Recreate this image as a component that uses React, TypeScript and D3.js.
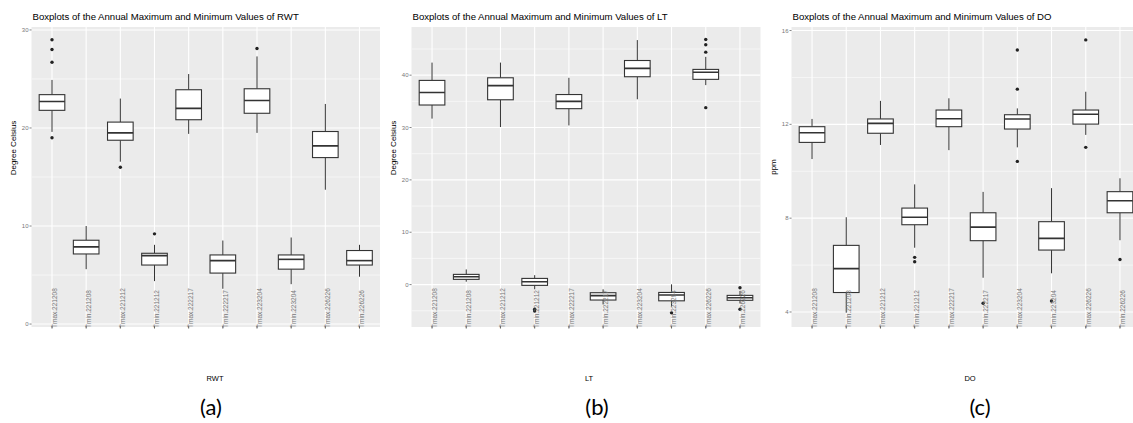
import React from 'react';
import * as d3 from 'd3';

const width = 1133;
const height = 423;
const panelBg = '#ebebeb';
const boxStroke = '#333333';

const categories = [
  'T\u0304max.221208', 'T\u0304min.221208', 'T\u0304max.221212', 'T\u0304min.221212',
  'T\u0304max.222217', 'T\u0304min.222217', 'T\u0304max.223204', 'T\u0304min.223204',
  'T\u0304max.226226', 'T\u0304min.226226',
];

// [lower whisker, Q1, median, Q3, upper whisker]
const rwtBoxes = [
  [19.6, 21.8, 22.7, 23.4, 24.9],
  [5.6, 7.15, 7.87, 8.55, 10.0],
  [16.56, 18.75, 19.5, 20.6, 23.0],
  [4.38, 6.02, 6.98, 7.22, 8.08],
  [19.4, 20.84, 22.0, 23.9, 25.5],
  [3.6, 5.2, 6.47, 7.05, 8.52],
  [19.5, 21.5, 22.8, 24.0, 27.3],
  [4.07, 5.6, 6.6, 7.05, 8.83],
  [13.7, 16.98, 18.17, 19.64, 22.45],
  [4.83, 6.02, 6.47, 7.5, 8.08],
];
const rwtOutliers = [[29.0, 28.0, 26.7, 19.0], [], [16.0], [9.2], [], [], [28.1], [], [], []];

const ltBoxes = [
  [31.7, 34.3, 36.7, 39.0, 42.4],
  [0.55, 1.0, 1.5, 1.95, 2.9],
  [30.1, 35.3, 38.0, 39.5, 42.4],
  [-0.9, -0.15, 0.55, 1.18, 1.8],
  [30.4, 33.6, 35.0, 36.3, 39.5],
  [-3.8, -2.95, -2.1, -1.55, -0.9],
  [35.4, 39.7, 41.3, 42.8, 46.7],
  [-4.2, -3.1, -2.0, -1.5, 0.05],
  [38.1, 39.2, 40.55, 41.1, 43.5],
  [-3.6, -3.0, -2.5, -2.06, -1.2],
];
const ltOutliers = [[], [], [], [-4.7, -5.05], [], [], [], [-5.4], [46.8, 45.8, 44.4, 33.8], [-0.6, -4.7]];

const doBoxes = [
  [10.52, 11.23, 11.64, 11.9, 12.23],
  [3.97, 4.83, 5.85, 6.84, 8.04],
  [11.12, 11.62, 12.04, 12.23, 13.0],
  [6.74, 7.72, 8.04, 8.43, 9.44],
  [10.9, 11.9, 12.24, 12.61, 13.11],
  [5.46, 7.04, 7.62, 8.23, 9.12],
  [11.02, 11.8, 12.23, 12.41, 12.68],
  [5.65, 6.64, 7.14, 7.85, 9.28],
  [11.55, 12.01, 12.43, 12.61, 13.39],
  [7.06, 8.23, 8.74, 9.13, 9.7],
];
const doOutliers = [[], [], [], [6.33, 6.14], [], [4.37], [15.17, 13.5, 10.42], [4.47], [15.6, 11.02], [6.24]];

const rwtTicks = [0, 10, 20, 30];
const rwtMinor = [5, 15, 25];
const ltTicks = [0, 10, 20, 30, 40];
const ltMinor = [-5, 5, 15, 25, 35, 45];
const doTicks = [4, 8, 12, 16];
const doMinor = [6, 10, 14];

const panels = [
  {
    key: 'rwt', title: 'Boxplots of the Annual Maximum and Minimum Values of RWT',
    yTitle: 'Degree Celsius', xTitle: 'RWT', caption: '(a)',
    boxes: rwtBoxes, outliers: rwtOutliers, ticks: rwtTicks, minor: rwtMinor,
    domain: [-0.3, 30.3], left: 31.5, right: 380, yTitleX: 13, yTitleY: 148,
    xTitleX: 215, captionX: 211,
  },
  {
    key: 'lt', title: 'Boxplots of the Annual Maximum and Minimum Values of LT',
    yTitle: 'Degree Celsius', xTitle: 'LT', caption: '(b)',
    boxes: ltBoxes, outliers: ltOutliers, ticks: ltTicks, minor: ltMinor,
    domain: [-8.1, 49.2], left: 411.5, right: 760.5, yTitleX: 393, yTitleY: 148,
    xTitleX: 589, captionX: 597,
  },
  {
    key: 'do', title: 'Boxplots of the Annual Maximum and Minimum Values of DO',
    yTitle: 'ppm', xTitle: 'DO', caption: '(c)',
    boxes: doBoxes, outliers: doOutliers, ticks: doTicks, minor: doMinor,
    domain: [3.36, 16.15], left: 791.5, right: 1140.5, yTitleX: 773, yTitleY: 167,
    xTitleX: 970, captionX: 980,
  },
];

const top = 27;
const bottom = 327;

function Panel({p}: {p: any}) {
  const x = d3.scalePoint<string>().domain(categories).range([p.left, p.right]).padding(0.6);
  const y = d3.scaleLinear().domain(p.domain).range([bottom, top]);
  const bw = x.step() * 0.75;
  const clipId = 'clip-' + p.key;
  return (
    <g>
      <defs>
        <clipPath id={clipId}>
          <rect x={p.left} y={top} width={p.right - p.left} height={bottom - top}/>
        </clipPath>
      </defs>
      <text x={p.left + 1} y={20} fontSize={9.6} fill='#000'>{p.title}</text>
      <rect x={p.left} y={top} width={p.right - p.left} height={bottom - top} fill={panelBg}/>
      <g clipPath={`url(#${clipId})`}>
        {p.minor.map((t: number) => (
          <line key={'m' + t} x1={p.left} x2={p.right} y1={y(t)} y2={y(t)} stroke='#fff' strokeWidth={0.55}/>
        ))}
        {p.ticks.map((t: number) => (
          <line key={'t' + t} x1={p.left} x2={p.right} y1={y(t)} y2={y(t)} stroke='#fff' strokeWidth={1.1}/>
        ))}
        {categories.map(c => (
          <line key={c} x1={x(c)} x2={x(c)} y1={top} y2={bottom} stroke='#fff' strokeWidth={1.1}/>
        ))}
        {p.boxes.map((b: number[], i: number) => {
          const cx = x(categories[i]) as number;
          return (
            <g key={i}>
              <line x1={cx} x2={cx} y1={y(b[3])} y2={y(b[4])} stroke={boxStroke} strokeWidth={1}/>
              <line x1={cx} x2={cx} y1={y(b[0])} y2={y(b[1])} stroke={boxStroke} strokeWidth={1}/>
              <rect x={cx - bw / 2} y={y(b[3])} width={bw} height={y(b[1]) - y(b[3])}
                    fill='#fff' stroke={boxStroke} strokeWidth={1.1}/>
              <line x1={cx - bw / 2} x2={cx + bw / 2} y1={y(b[2])} y2={y(b[2])} stroke={boxStroke} strokeWidth={1.6}/>
              {p.outliers[i].map((o: number, j: number) => (
                <circle key={j} cx={cx} cy={y(o)} r={1.7} fill='#222'/>
              ))}
            </g>
          );
        })}
      </g>
      {p.ticks.map((t: number) => (
        <g key={'yl' + t}>
          <line x1={p.left - 2} x2={p.left} y1={y(t)} y2={y(t)} stroke='#333' strokeWidth={0.6}/>
          <text x={p.left - 3} y={y(t)} dy='0.35em' textAnchor='end' fontSize={6} fill='#777'>{t}</text>
        </g>
      ))}
      {categories.map(c => {
        const cx = x(c) as number;
        return (
          <g key={'xl' + c}>
            <line x1={cx} x2={cx} y1={bottom - 1} y2={bottom + 1.5} stroke='#333' strokeWidth={0.8}/>
            <text transform={`translate(${cx + 4.8},${bottom + 1}) rotate(-90)`} fontSize={6.5} fill='#777'>{c}</text>
          </g>
        );
      })}
      <text transform={`translate(${p.yTitleX + 3},${p.yTitleY}) rotate(-90)`} textAnchor='middle'
            fontSize={8} fill='#000'>{p.yTitle}</text>
      <text x={p.xTitleX} y={381} textAnchor='middle' fontSize={7.5} fill='#000'>{p.xTitle}</text>
      <text x={p.captionX} y={415} textAnchor='middle' fontSize={22}
            fontFamily='Lato, "Open Sans", sans-serif' fill='#000'>{p.caption}</text>
    </g>
  );
}

export default function App() {
  return (
    <svg width={width} height={height} fontFamily='"Liberation Sans", Arial, sans-serif'
         style={{position: 'absolute', left: 0, top: 0, background: '#fff'}}>
      {panels.map(p => <Panel key={p.key} p={p}/>)}
    </svg>
  );
}
